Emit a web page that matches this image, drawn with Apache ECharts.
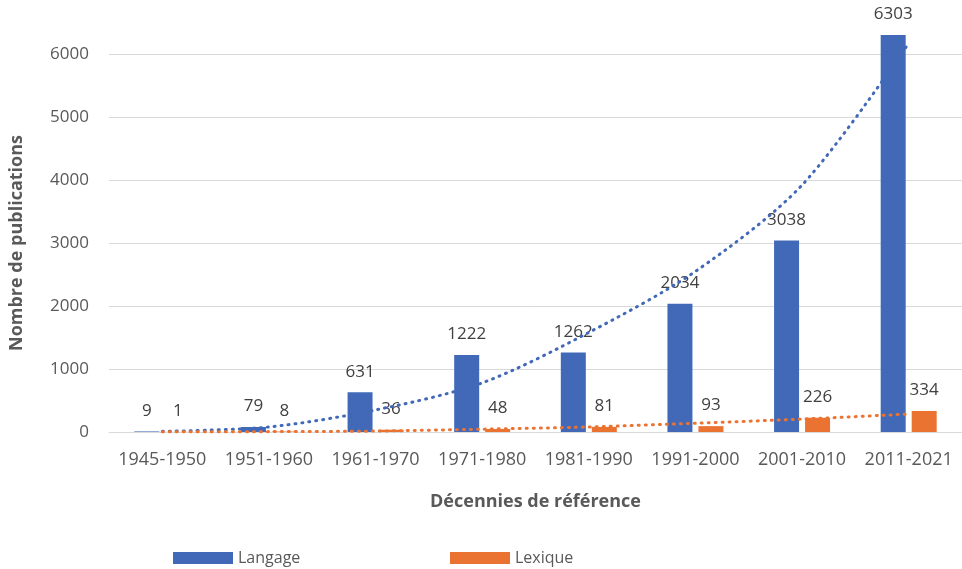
<!DOCTYPE html>
<html>
<head>
<meta charset="utf-8">
<script src="https://cdn.jsdelivr.net/npm/echarts@6/dist/echarts.min.js"></script>
<style>
html,body{margin:0;padding:0;background:#fff;}
#c{width:962px;height:569px;}
</style>
</head>
<body>
<div id="c"></div>
<script>
const categories = ['1945-1950','1951-1960','1961-1970','1971-1980','1981-1990','1991-2000','2001-2010','2011-2021'];
const langage = [9, 79, 631, 1222, 1262, 2034, 3038, 6303];
const lexique = [1, 8, 36, 48, 81, 93, 226, 334];
// trend lines
const langageTrend = [10, 80, 350, 780, 1580, 2550, 3920, 6170];
const lexiqueTrend = [2, 6, 15, 45, 80, 140, 205, 285];
const yTicks = {min: 0, max: 6000, interval: 1000};

const BLUE = '#4169B8';
const ORANGE = '#EB7332';
const FONT = 'Open Sans';

const chart = echarts.init(document.getElementById('c'));
const labelStyle = {
  show: true, position: 'top', distance: 12,
  color: '#404040', fontSize: 17, fontFamily: FONT
};
chart.setOption({
  backgroundColor: '#fff',
  animation: false,
  grid: {left: 100, right: -3, top: 54, bottom: 137},
  legend: [
    {data: ['Langage'], left: 168, top: 545, itemWidth: 60, itemHeight: 12, icon: 'rect',
     textStyle: {color: '#595959', fontSize: 16, fontFamily: FONT}},
    {data: ['Lexique'], left: 445, top: 545, itemWidth: 60, itemHeight: 12, icon: 'rect',
     textStyle: {color: '#595959', fontSize: 16, fontFamily: FONT}}
  ],
  xAxis: {
    type: 'category',
    data: categories,
    axisLine: {lineStyle: {color: '#d9d9d9'}},
    axisTick: {show: false},
    axisLabel: {color: '#595959', fontSize: 18, fontFamily: FONT, margin: 19, interval: 0},
    name: 'Décennies de référence',
    nameLocation: 'middle',
    nameGap: 61,
    nameTextStyle: {color: '#595959', fontSize: 18, fontWeight: 'bold', fontFamily: FONT}
  },
  yAxis: {
    type: 'value',
    min: yTicks.min, max: yTicks.max, interval: yTicks.interval,
    axisLine: {show: false},
    axisTick: {show: false},
    splitLine: {lineStyle: {color: '#d9d9d9', width: 1}},
    axisLabel: {color: '#595959', fontSize: 17, fontFamily: FONT, margin: 20,
                formatter: v => String(v)},
    name: 'Nombre de publications',
    nameLocation: 'middle',
    nameRotate: 90,
    nameGap: 83,
    nameTextStyle: {color: '#595959', fontSize: 18, fontWeight: 'bold', fontFamily: FONT}
  },
  series: [
    {name: 'Langage', type: 'bar', data: langage, barWidth: 25, barGap: '24%', clip: false,
     itemStyle: {color: BLUE}, label: labelStyle},
    {name: 'Lexique', type: 'bar', data: lexique, barWidth: 25, clip: false,
     itemStyle: {color: ORANGE}, label: labelStyle},
    {name: 'Tendance Langage', type: 'line', data: langageTrend, smooth: 0.3,
     symbol: 'none', z: 5, clip: false,
     lineStyle: {color: BLUE, width: 3, type: [1, 6], cap: 'round'}},
    {name: 'Tendance Lexique', type: 'line', data: lexiqueTrend, smooth: 0.3,
     symbol: 'none', z: 5, clip: false,
     lineStyle: {color: ORANGE, width: 3, type: [1, 6], cap: 'round'}}
  ]
});
</script>
</body>
</html>
